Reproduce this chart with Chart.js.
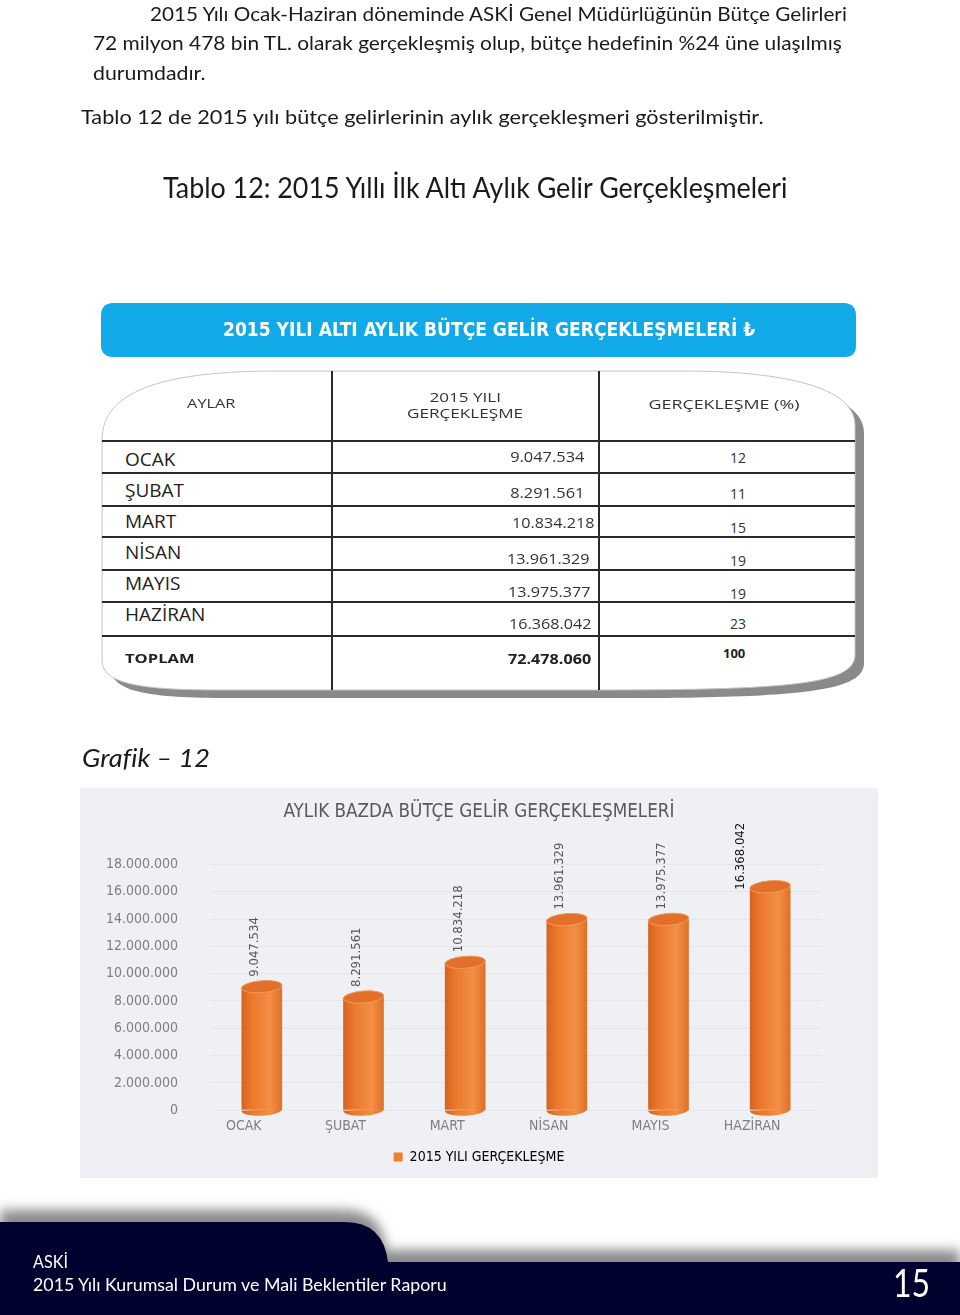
<!DOCTYPE html>
<html lang="tr">
<head>
<meta charset="utf-8">
<title>2015 Yılı Aylık Bütçe Gelir Gerçekleşmeleri</title>
<script src="https://cdn.jsdelivr.net/npm/chart.js@4.4.1/dist/chart.umd.min.js"></script>
<style>
  html, body { margin: 0; padding: 0; background: #fff; }
  body { width: 960px; height: 1315px; position: relative; overflow: hidden; font-family: Lato, 'Open Sans', sans-serif; color: #1a1a1a; }
  #deco { position: absolute; left: 0; top: 0; }
  .t { position: absolute; white-space: nowrap; line-height: 1; }
  #chartBox { position: absolute; left: 80px; top: 788px; width: 798px; height: 390px; background: #eef0f4; }
</style>
</head>
<body>
<svg id="deco" width="960" height="1315" viewBox="0 0 960 1315">
  <defs>
    <filter id="soft" x="-10%" y="-50%" width="120%" height="200%"><feGaussianBlur stdDeviation="6"/></filter>
  </defs>
  <!-- blue banner -->
  <path d="M112,303 L845,303 Q856,304 856,316 L856,345 Q856,357 845,357 L112,357 Q101,356 101,345 L101,316 Q101,304 112,303 Z" fill="#12a9e8"/>
  <!-- table frame: shadow then white body -->
  <path transform="translate(9,8)" d="M102,440 C102,392 160,372 270,371 L690,371 C800,372 855,392 855,425 L855,655 C855,684 790,690 600,690 L220,690 C140,690 102,684 102,660 Z" fill="#8a8a8a"/>
  <path d="M102,440 C102,392 160,372 270,371 L690,371 C800,372 855,392 855,425 L855,655 C855,684 790,690 600,690 L220,690 C140,690 102,684 102,660 Z" fill="#fff" stroke="#c4c4c4" stroke-width="1"/>
  <g stroke="#2a2a2a" stroke-width="2">
    <line x1="332" y1="371" x2="332" y2="690"/>
    <line x1="599" y1="371" x2="599" y2="690"/>
  </g>
  <g id="rowLines" stroke="#2a2a2a" stroke-width="2"></g>
  <!-- footer -->
  <path d="M0,1210 L345,1210 Q382,1210 386,1250 L960,1250 L960,1300 L0,1300 Z" fill="#8a8a8a" filter="url(#soft)"/>
  <path d="M0,1222 L345,1222 Q383,1222 388,1262 L960,1262 L960,1315 L0,1315 Z" fill="#01012f"/>
</svg>

<div id="chartBox"><canvas id="monthly-revenue"></canvas></div>

<script>
'use strict'

// DATA (from Tablo 12 / Grafik 12)
const months = ['OCAK', 'ŞUBAT', 'MART', 'NİSAN', 'MAYIS', 'HAZİRAN']
const revenue = [9047534, 8291561, 10834218, 13961329, 13975377, 16368042]
const shares = [12, 11, 15, 19, 19, 23]
const totalRevenue = 72478060
const totalShare = 100
const yTickValues = [0, 2000000, 4000000, 6000000, 8000000, 10000000, 12000000, 14000000, 16000000, 18000000]
const seriesName = '2015 YILI GERÇEKLEŞME'

// thousands with dots, like the report
const fmt = n => String(n).replace(/\B(?=(\d{3})+(?!\d))/g, '.')

////////////////////////////////////////////////////
// PAGE TEXT

const pending = []
function place(text, o) {
  const el = document.createElement('div')
  el.className = 't'
  el.textContent = text
  el.style.fontSize = o.size + 'px'
  el.style.fontFamily = o.family || "Lato, 'Open Sans', sans-serif"
  el.style.fontWeight = o.weight || 'normal'
  el.style.fontStyle = o.italic ? 'italic' : 'normal'
  el.style.color = o.color || '#1a1a1a'
  document.body.appendChild(el)
  pending.push([el, o])
}
function layoutText() {
  pending.forEach(([el, o]) => {
    const w = el.offsetWidth
    const s = o.w ? o.w / w : 1
    const align = o.align || 'left'
    let left = o.x
    if (align === 'right') left = o.x - w
    if (align === 'center') left = o.x - w / 2
    el.style.left = left + 'px'
    el.style.top = (o.y - o.size / 2) + 'px'
    el.style.transformOrigin = align === 'left' ? 'left center' : align === 'right' ? 'right center' : 'center center'
    el.style.transform = `scaleX(${s})`
  })
}

place('2015 Yılı Ocak-Haziran döneminde ASKİ Genel Müdürlüğünün Bütçe Gelirleri', { x: 150, y: 13, w: 697, size: 20 })
place('72 milyon 478 bin TL. olarak gerçekleşmiş olup, bütçe hedefinin %24 üne ulaşılmış', { x: 93, y: 42, w: 749, size: 20 })
place('durumdadır.', { x: 93, y: 72, w: 113, size: 20 })
place('Tablo 12 de 2015 yılı bütçe gelirlerinin aylık gerçekleşmeri  gösterilmiştir.', { x: 81, y: 116, w: 682, size: 20 })
place('Tablo 12: 2015 Yıllı İlk Altı Aylık Gelir Gerçekleşmeleri', { x: 163, y: 187, w: 624, size: 28 })

place('2015 YILI ALTI AYLIK BÜTÇE GELİR GERÇEKLEŞMELERİ ₺', { x: 223, y: 329, w: 532, size: 19, weight: 'bold', color: '#fff', family: "'DejaVu Sans Condensed', 'DejaVu Sans', sans-serif" })

const tableFont = "'Open Sans', 'DejaVu Sans', sans-serif"
place('AYLAR', { x: 211, y: 403, w: 49, size: 13, align: 'center', family: tableFont, color: '#333' })
place('2015 YILI', { x: 465, y: 397, w: 71, size: 13, align: 'center', family: tableFont, color: '#333' })
place('GERÇEKLEŞME', { x: 465, y: 413, w: 116, size: 13, align: 'center', family: tableFont, color: '#333' })
place('GERÇEKLEŞME  (%)', { x: 724, y: 404, w: 151, size: 13, align: 'center', family: tableFont, color: '#333' })

// row lines and row texts, built from the data arrays
const rowLineY = [441, 473, 506, 537, 570, 602, 636]
const monthY = [459, 490, 521, 552, 583, 614]
const valueY = [457, 493, 523, 559, 592, 624]
const valueRight = [584, 584, 594, 589, 590, 591]
const shareY = [458, 494, 528, 561, 594, 624]

const rowLines = document.getElementById('rowLines')
rowLineY.forEach(y => {
  const l = document.createElementNS('http://www.w3.org/2000/svg', 'line')
  l.setAttribute('x1', 102); l.setAttribute('x2', 855)
  l.setAttribute('y1', y); l.setAttribute('y2', y)
  rowLines.appendChild(l)
})

months.forEach((m, i) => {
  place(m, { x: 125, y: monthY[i], size: 19, family: tableFont, color: '#222' })
  const digits = fmt(revenue[i])
  place(digits, { x: valueRight[i], y: valueY[i], size: 14, w: digits.length * 8.2, align: 'right', family: tableFont, color: '#333' })
  place(String(shares[i]), { x: 738, y: shareY[i], size: 14, align: 'center', family: tableFont, color: '#333' })
})
place('TOPLAM', { x: 125, y: 658, w: 70, size: 13, weight: 'bold', family: tableFont, color: '#222' })
place(fmt(totalRevenue), { x: 591, y: 658, w: 83, size: 15, weight: 'bold', align: 'right', family: tableFont, color: '#222' })
place(String(totalShare), { x: 734, y: 653, size: 13, weight: 'bold', align: 'center', family: tableFont, color: '#222' })

place('Grafik – 12', { x: 82, y: 757, w: 128, size: 26, italic: true })

place('ASKİ', { x: 33, y: 1261, w: 35, size: 18, color: '#fff' })
place('2015 Yılı Kurumsal Durum ve Mali Beklentiler Raporu', { x: 33, y: 1284, w: 414, size: 18, color: '#fff' })
place('15', { x: 893, y: 1282, w: 37, size: 38, color: '#fff' })

layoutText()
if (document.fonts) document.fonts.ready.then(layoutText)

////////////////////////////////////////////////////
// GRAFIK 12 - cylinder bars

const chartFont = "'Liberation Sans Narrow', 'DejaVu Sans Condensed', Roboto, sans-serif"
const handMovedLabel = { index: 5, dx: -23, dy: 13, color: '#1a1a1a' }

function barGradient(context) {
  const chart = context.chart
  const x = chart.scales.x
  if (!x || context.dataIndex === undefined) return '#ee8435'
  const cx = x.getPixelForValue(context.dataIndex)
  const half = (chart.chartArea.right - chart.chartArea.left) / months.length * 0.4 / 2
  const g = chart.ctx.createLinearGradient(cx - half, 0, cx + half, 0)
  g.addColorStop(0, '#d6621d')
  g.addColorStop(0.25, '#ea782c')
  g.addColorStop(0.7, '#f38f44')
  g.addColorStop(1, '#de702a')
  return g
}

const cylinders = {
  id: 'cylinders',
  afterDatasetsDraw(chart) {
    const { ctx } = chart
    const meta = chart.getDatasetMeta(0)
    meta.data.forEach((bar, i) => {
      const { x, y, base, width } = bar.getProps(['x', 'y', 'base', 'width'], true)
      const rx = width / 2, ry = 6
      ctx.save()
      ctx.fillStyle = barGradient({ chart, dataIndex: i })
      ctx.beginPath()
      ctx.ellipse(x, base, rx, ry, -0.05, 0, Math.PI)
      ctx.fill()
      ctx.fillStyle = '#e2702a'
      ctx.strokeStyle = '#f29a58'
      ctx.lineWidth = 1
      ctx.beginPath()
      ctx.ellipse(x, y, rx, ry, -0.08, 0, Math.PI * 2)
      ctx.fill()
      ctx.stroke()
      ctx.restore()

      // value label, rotated
      const moved = i === handMovedLabel.index
      ctx.save()
      ctx.translate(x - 7 + (moved ? handMovedLabel.dx : 0), y - 10 + (moved ? handMovedLabel.dy : 0))
      ctx.rotate(-Math.PI / 2)
      ctx.font = '13px ' + chartFont
      ctx.fillStyle = moved ? handMovedLabel.color : '#595959'
      ctx.textAlign = 'left'
      ctx.textBaseline = 'middle'
      ctx.fillText(fmt(revenue[i]), 0, 0)
      ctx.restore()
    })
  }
}

const canvas = document.getElementById('monthly-revenue')
new Chart(canvas, {
  type: 'bar',
  data: {
    labels: months,
    datasets: [{
      label: seriesName,
      data: revenue,
      backgroundColor: barGradient,
      borderWidth: 0,
      barPercentage: 0.4,
      categoryPercentage: 1
    }]
  },
  options: {
    responsive: true,
    maintainAspectRatio: false,
    animation: false,
    layout: { padding: { left: 0, right: 0, top: 0, bottom: 4 } },
    plugins: {
      title: {
        display: true,
        text: 'AYLIK BAZDA BÜTÇE GELİR GERÇEKLEŞMELERİ',
        color: '#595959',
        font: { family: chartFont, size: 18.7, weight: 'normal' },
        padding: { top: 13, bottom: 41 }
      },
      legend: {
        position: 'bottom',
        labels: {
          color: '#595959',
          font: { family: chartFont, size: 14 },
          boxWidth: 9,
          boxHeight: 9,
          padding: 7,
          generateLabels: chart => [{
            text: seriesName,
            fillStyle: '#ee7f31',
            strokeStyle: '#ee7f31',
            lineWidth: 0,
            datasetIndex: 0
          }]
        }
      },
      tooltip: { enabled: false }
    },
    scales: {
      x: {
        grid: { display: false, drawTicks: false },
        border: { display: false },
        ticks: { color: '#7f7f7f', font: { family: chartFont, size: 14 }, padding: 8, labelOffset: -18 }
      },
      y: {
        min: 0,
        max: 18000000,
        afterBuildTicks: axis => { axis.ticks = yTickValues.map(v => ({ value: v })) },
        afterFit: axis => { axis.width = 131 },
        grid: { color: 'rgba(0,0,0,0.04)', drawTicks: false },
        border: { display: false },
        ticks: { color: '#7f7f7f', font: { family: chartFont, size: 14 }, padding: 33, callback: v => fmt(v) }
      },
      // empty right-hand strip so the plot sits where the report has it
      yRight: {
        position: 'right',
        display: true,
        afterFit: axis => { axis.width = 57 },
        grid: { display: false },
        border: { display: false },
        ticks: { display: false }
      }
    }
  },
  plugins: [cylinders]
})
</script>
</body>
</html>
